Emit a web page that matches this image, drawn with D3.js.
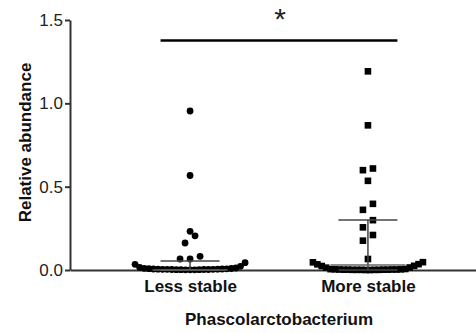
<!DOCTYPE html>
<html><head><meta charset="utf-8">
<script src="https://cdn.jsdelivr.net/npm/d3@7"></script>
<style>body{margin:0;background:#fff} svg{display:block}</style>
</head><body>
<script>
// ---- data ----
const categories = ["Less stable", "More stable"];
const lessStable = [0.954, 0.567, 0.232, 0.205, 0.162, 0.082, 0.066, 0.066,
  0.044, 0.034, 0.022, 0.016, 0.012, 0.010, 0.009, 0.008, 0.007, 0.006, 0.006,
  0.005, 0.005, 0.004, 0.004, 0.004, 0.003, 0.003, 0.003, 0.002, 0.002, 0.002,
  0.001, 0.001, 0.001];
const moreStable = [1.192, 0.868, 0.609, 0.599, 0.535, 0.397, 0.361, 0.299,
  0.256, 0.210, 0.176, 0.066,
  0.047, 0.046, 0.035, 0.034, 0.025, 0.024, 0.015, 0.014, 0.006, 0.005, 0.004,
  0.004, 0.003, 0.003, 0.003, 0.002, 0.002, 0.002, 0.002, 0.001, 0.001, 0.001,
  0.001, 0.001, 0.000, 0.000];
const medians = [0, 0.03];
const lowerQuartiles = [0, 0];
const upperQuartiles = [0.054, 0.30];
const yTicks = [0, 0.5, 1.0, 1.5];
const sigLabel = "*";
const sigLevel = 1.377;
const xTitle = "Phascolarctobacterium";
const yTitle = "Relative abundance";

// ---- chart ----
const W = 476, H = 333;
const FONT = "'Liberation Sans', Arial, sans-serif";
const svg = d3.select("body").append("svg").attr("width", W).attr("height", H);
const y = d3.scaleLinear().domain([0, 1.5]).range([270, 20]);
const x = d3.scalePoint().domain(categories).range([70, 488]).padding(0.675);

function swarm(values, rowTol, maxSpan, maxStep) {
  const sorted = values.slice().sort((a, b) => a - b);
  const rows = []; let cur = null;
  for (const v of sorted) {
    if (!cur || v - cur[0] >= rowTol) { cur = [v]; rows.push(cur); } else cur.push(v);
  }
  const out = [];
  rows.forEach(row => {
    const n = row.length;
    const step = n > 1 ? Math.min(maxStep, maxSpan / (n - 1)) : 0;
    const slots = d3.range(n).map(i => (i - (n - 1) / 2) * step);
    slots.sort((a, b) => Math.abs(a) - Math.abs(b) || a - b);
    row.forEach((v, i) => out.push({ v, dx: slots[i] }));
  });
  return out;
}

// y axis
const gy = svg.append("g").attr("transform", "translate(70,0)")
  .call(d3.axisLeft(y).tickValues(yTicks).tickFormat(d3.format(".1f"))
    .tickSize(5).tickSizeOuter(0).tickPadding(2));
gy.select(".domain").attr("stroke", "#333").attr("stroke-width", 2);
gy.selectAll(".tick line").attr("stroke", "#333").attr("stroke-width", 2);
gy.selectAll(".tick text").attr("font-family", FONT).attr("font-size", 17).attr("fill", "#222");

// x axis
const gx = svg.append("g").attr("transform", `translate(0,${y(0)})`)
  .call(d3.axisBottom(x).tickSize(0).tickSizeOuter(0).tickPadding(10));
gx.select(".domain").attr("stroke", "#333").attr("stroke-width", 2);
gx.selectAll(".tick text").attr("font-family", FONT).attr("font-size", 17)
  .attr("font-weight", "bold").attr("fill", "#111");

// points
const series = [lessStable, moreStable];
series.forEach((vals, i) => {
  const cx = x(categories[i]);
  const pts = swarm(vals, 0.048, 110, 10);
  if (i === 0) {
    svg.append("g").selectAll("circle").data(pts).join("circle")
      .attr("cx", d => cx + d.dx).attr("cy", d => y(d.v)).attr("r", 3.4).attr("fill", "#000");
  } else {
    const s = 6.6;
    svg.append("g").selectAll("rect").data(pts).join("rect")
      .attr("x", d => cx + d.dx - s / 2).attr("y", d => y(d.v) - s / 2)
      .attr("width", s).attr("height", s).attr("fill", "#000");
  }
});

// median + interquartile range
const medHalf = 37.5, capHalf = 29.5;
categories.forEach((c, i) => {
  const cx = x(c);
  const g = svg.append("g").attr("stroke", "#444").attr("stroke-width", 1.5);
  g.append("line").attr("x1", cx).attr("x2", cx).attr("y1", y(upperQuartiles[i])).attr("y2", y(lowerQuartiles[i]));
  g.append("line").attr("x1", cx - capHalf).attr("x2", cx + capHalf).attr("y1", y(upperQuartiles[i])).attr("y2", y(upperQuartiles[i]));
  g.append("line").attr("x1", cx - capHalf).attr("x2", cx + capHalf).attr("y1", y(lowerQuartiles[i])).attr("y2", y(lowerQuartiles[i]));
  g.append("line").attr("stroke", "#666").attr("x1", cx - medHalf).attr("x2", cx + medHalf).attr("y1", y(medians[i])).attr("y2", y(medians[i]));
});

// significance bar
const x0 = x(categories[0]) - capHalf, x1 = x(categories[1]) + capHalf;
svg.append("line").attr("x1", x0).attr("x2", x1).attr("y1", y(sigLevel)).attr("y2", y(sigLevel))
  .attr("stroke", "#000").attr("stroke-width", 2.5);
svg.append("text").attr("x", (x0 + x1) / 2 + 1).attr("y", 29).attr("text-anchor", "middle")
  .attr("font-family", FONT).attr("font-size", 30).attr("fill", "#222").text(sigLabel);

// titles
svg.append("text").attr("x", (x(categories[0]) + x(categories[1])) / 2).attr("y", 324.5)
  .attr("text-anchor", "middle").attr("font-family", FONT).attr("font-size", 17)
  .attr("font-weight", "bold").attr("fill", "#111").text(xTitle);
svg.append("text").attr("transform", "translate(31,142.5) rotate(-90)")
  .attr("text-anchor", "middle").attr("font-family", FONT).attr("font-size", 17)
  .attr("font-weight", "bold").attr("fill", "#111").text(yTitle);
</script>
</body></html>
